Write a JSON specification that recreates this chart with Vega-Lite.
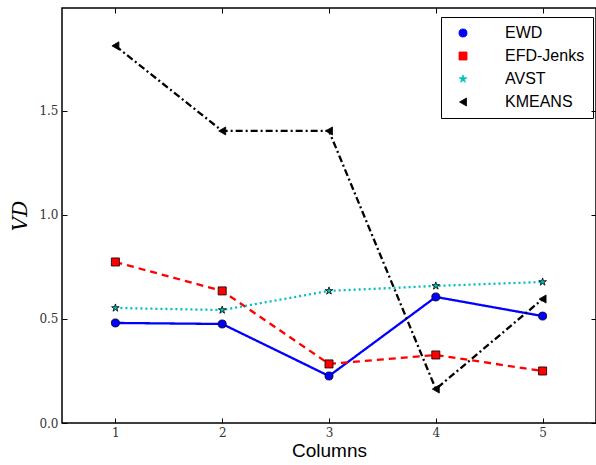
{
  "$schema": "https://vega.github.io/schema/vega-lite/v6.json",
  "width": 534,
  "height": 415,
  "autosize": {"type": "none"},
  "padding": {"left": 62, "top": 8, "right": 0, "bottom": 42},
  "background": "white",
  "config": {
    "view": {"stroke": "black", "strokeWidth": 1.5},
    "axis": {
      "labelFont": "DejaVu Serif",
      "labelFontSize": 12,
      "labelColor": "#333",
      "tickColor": "black",
      "tickSize": -5,
      "tickWidth": 1,
      "domain": false,
      "grid": false,
      "titleFontWeight": "normal",
      "titleColor": "black"
    },
    "legend": {
      "title": null, "orient": "none", "legendX": 379, "legendY": 9,
      "strokeColor": "black", "fillColor": "white", "padding": 8,
      "labelFont": "Liberation Sans", "labelFontSize": 16, "labelColor": "black",
      "symbolStrokeColor": "black", "symbolStrokeWidth": 0.8, "symbolSize": 65,
      "rowPadding": 7, "labelOffset": 34, "symbolOffset": 6
    }
  },
  "data": {
    "values": [
      {"col": 1, "v": 0.481, "method": "EWD"},
      {"col": 2, "v": 0.476, "method": "EWD"},
      {"col": 3, "v": 0.226, "method": "EWD"},
      {"col": 4, "v": 0.606, "method": "EWD"},
      {"col": 5, "v": 0.514, "method": "EWD"},
      {"col": 1, "v": 0.774, "method": "EFD-Jenks"},
      {"col": 2, "v": 0.635, "method": "EFD-Jenks"},
      {"col": 3, "v": 0.284, "method": "EFD-Jenks"},
      {"col": 4, "v": 0.327, "method": "EFD-Jenks"},
      {"col": 5, "v": 0.250, "method": "EFD-Jenks"},
      {"col": 1, "v": 0.553, "method": "AVST"},
      {"col": 2, "v": 0.543, "method": "AVST"},
      {"col": 3, "v": 0.635, "method": "AVST"},
      {"col": 4, "v": 0.659, "method": "AVST"},
      {"col": 5, "v": 0.678, "method": "AVST"},
      {"col": 1, "v": 1.813, "method": "KMEANS"},
      {"col": 2, "v": 1.404, "method": "KMEANS"},
      {"col": 3, "v": 1.404, "method": "KMEANS"},
      {"col": 4, "v": 0.163, "method": "KMEANS"},
      {"col": 5, "v": 0.596, "method": "KMEANS"}
    ]
  },
  "layer": [
    {
      "mark": {"type": "line", "strokeWidth": 2.3},
      "encoding": {
        "x": {
          "field": "col", "type": "quantitative",
          "scale": {"domain": [0.5, 5.5], "nice": false, "zero": false},
          "axis": {"values": [1, 2, 3, 4, 5], "format": "d", "title": "Columns", "titleFont": "Liberation Sans", "titleFontSize": 19, "labelPadding": 9, "titlePadding": 3}
        },
        "y": {
          "field": "v", "type": "quantitative",
          "scale": {"domain": [0, 1.995], "nice": false},
          "axis": {"values": [0, 0.5, 1, 1.5], "format": ".1f", "title": "VD", "titleFont": "DejaVu Serif", "titleFontStyle": "italic", "titleFontSize": 20, "labelPadding": 9, "titlePadding": 8}
        },
        "color": {
          "field": "method", "type": "nominal",
          "scale": {"domain": ["EWD", "EFD-Jenks", "AVST", "KMEANS"], "range": ["#0000ff", "#ff0000", "#00bfbf", "#000000"]}
        },
        "strokeDash": {
          "field": "method", "type": "nominal",
          "scale": {"domain": ["EWD", "EFD-Jenks", "AVST", "KMEANS"], "range": [[1, 0], [7, 5], [2, 3], [7, 3, 2, 3]]},
          "legend": null
        }
      }
    },
    {
      "mark": {"type": "point", "filled": true, "stroke": "black", "strokeWidth": 0.8, "opacity": 1, "size": 65},
      "encoding": {
        "x": {"field": "col", "type": "quantitative", "scale": {"domain": [0.5, 5.5], "nice": false, "zero": false}, "axis": {"orient": "top", "values": [1, 2, 3, 4, 5], "labels": false, "title": null, "ticks": true, "tickSize": 5, "offset": -5, "tickColor": "black", "tickWidth": 1, "zindex": 1}},
        "y": {"field": "v", "type": "quantitative", "scale": {"domain": [0, 1.995], "nice": false}, "axis": {"orient": "right", "values": [0, 0.5, 1, 1.5], "labels": false, "title": null, "ticks": true, "tickSize": 5, "offset": -5, "tickColor": "black", "tickWidth": 1, "zindex": 1}},
        "color": {
          "field": "method", "type": "nominal"
        },
        "shape": {
          "field": "method", "type": "nominal",
          "scale": {"domain": ["EWD", "EFD-Jenks", "AVST", "KMEANS"], "range": ["circle", "square", "M0,-1 L0.2245,-0.309 L0.951,-0.309 L0.363,0.118 L0.588,0.809 L0,0.382 L-0.588,0.809 L-0.363,0.118 L-0.951,-0.309 L-0.2245,-0.309 Z", "triangle-left"]}
        }
      }
    }
  ],
  "resolve": {"scale": {"x": "independent", "y": "independent", "strokeDash": "independent"}, "axis": {"x": "independent", "y": "independent"}, "legend": {"strokeDash": "independent"}}
}
